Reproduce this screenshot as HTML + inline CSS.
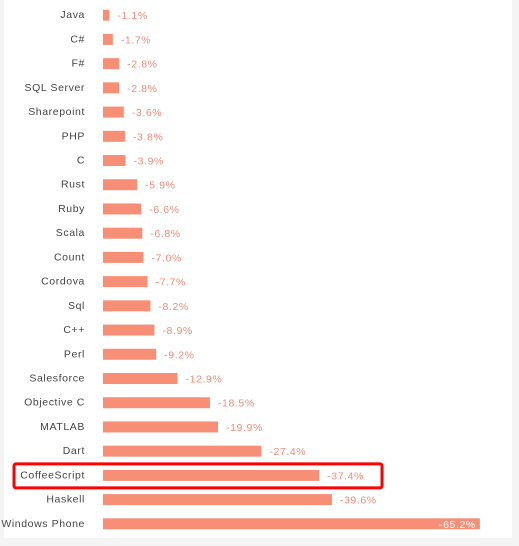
<!DOCTYPE html>
<html><head><meta charset="utf-8"><style>
html,body{margin:0;padding:0;background:#f4f4f4;}
#wrap{position:relative;width:519px;height:546px;overflow:hidden;}
#panel{position:absolute;left:4px;top:0;width:508px;height:538px;background:#fff;}
svg{position:absolute;left:0;top:0;}
text{font-family:"Liberation Sans",sans-serif;font-size:10.5px;letter-spacing:0.6px;}
</style></head><body>
<div id="wrap">
<div id="panel"></div>
<svg id="chart" width="519" height="546"></svg>
</div>
<script>
const categories=["Java","C#","F#","SQL Server","Sharepoint","PHP","C","Rust","Ruby","Scala","Count","Cordova","Sql","C++","Perl","Salesforce","Objective C","MATLAB","Dart","CoffeeScript","Haskell","Windows Phone"];
const values=[-1.1,-1.7,-2.8,-2.8,-3.6,-3.8,-3.9,-5.9,-6.6,-6.8,-7.0,-7.7,-8.2,-8.9,-9.2,-12.9,-18.5,-19.9,-27.4,-37.4,-39.6,-65.2];
const valueLabels=["-1.1%","-1.7%","-2.8%","-2.8%","-3.6%","-3.8%","-3.9%","-5.9%","-6.6%","-6.8%","-7.0%","-7.7%","-8.2%","-8.9%","-9.2%","-12.9%","-18.5%","-19.9%","-27.4%","-37.4%","-39.6%","-65.2%"];
const highlighted="CoffeeScript";
const NS="http://www.w3.org/2000/svg";
const svg=document.getElementById('chart');
const x0=103, pxPer=5.78, y0=15.2, step=24.22, bh=11;
const xScale=v=>Math.abs(v)*pxPer;
const yScale=i=>y0+i*step;
function mk(t,a){const e=document.createElementNS(NS,t);for(const k in a)e.setAttribute(k,a[k]);svg.appendChild(e);return e;}
categories.forEach((c,i)=>{
  const cy=yScale(i), w=xScale(values[i]);
  const lab=mk('text',{x:85,y:cy+3,'text-anchor':'end',fill:'#444'});
  lab.textContent=c;
  
  
  const r=mk('rect',{x:x0,y:cy-bh/2,width:w,height:bh,fill:'#f78f76'});
  
  
  const inside=w>300;
  const v=mk('text',{x:inside?x0+w-4:x0+w+8,y:cy+4,'text-anchor':inside?'end':'start',fill:inside?'#fff':'#f28b7b'});
  v.textContent=valueLabels[i];
  
  
  if(c===highlighted){
    const b=mk('rect',{x:14,y:cy-11.5,width:368,height:24,rx:2,fill:'none',stroke:'#ff0000','stroke-width':3});
    
    
  }
});
</script>
</body></html>
